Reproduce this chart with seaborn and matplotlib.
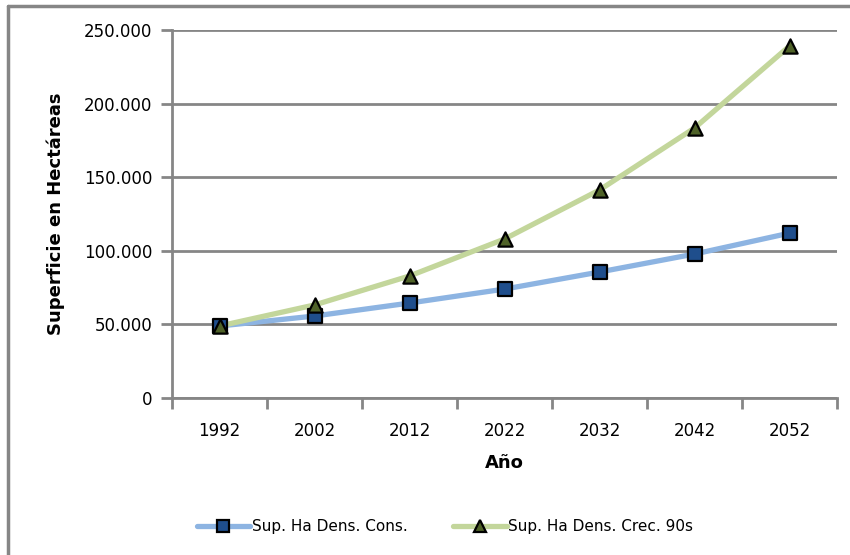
import seaborn as sns
import matplotlib.pyplot as plt
import pandas as pd
from matplotlib.lines import Line2D
from matplotlib.ticker import FuncFormatter

years = ["1992", "2002", "2012", "2022", "2032", "2042", "2052"]
cons = [48900, 55700, 64500, 74000, 85600, 97800, 112000]
crec = [48900, 63200, 82900, 108000, 141300, 183400, 239100]
series_names = ["Sup. Ha Dens. Cons.", "Sup. Ha Dens. Crec. 90s"]

sns.set_style("white")
plt.rcParams['font.family'] = ['DejaVu Sans']
plt.rcParams['text.color'] = 'black'
plt.rcParams['axes.labelcolor'] = 'black'
plt.rcParams['xtick.color'] = 'black'
plt.rcParams['ytick.color'] = 'black'

df = pd.DataFrame({
    "year": years * 2,
    "pos": list(range(len(years))) * 2,
    "value": cons + crec,
    "serie": [series_names[0]] * len(years) + [series_names[1]] * len(years),
})

fig = plt.figure(figsize=(8.5, 5.55), dpi=100)
ax = fig.add_axes([172 / 850, 1 - 398 / 555, 665 / 850, 368 / 555])

grid_col = "#868686"
line_cols = {series_names[0]: "#8DB4E2", series_names[1]: "#C3D69B"}
mark_cols = {series_names[0]: "#1F4E8C", series_names[1]: "#4F6228"}
markers = {series_names[0]: "s", series_names[1]: "^"}

for s in series_names:
    sub = df[df["serie"] == s]
    sns.lineplot(data=sub, x="pos", y="value", ax=ax, color=line_cols[s],
                 linewidth=3.8, zorder=3, legend=False)
    sns.scatterplot(data=sub, x="pos", y="value", ax=ax, marker=markers[s],
                    color=mark_cols[s], edgecolor="black", linewidth=1.6,
                    s=105, zorder=4, legend=False)

ax.set_xlim(-0.5, len(years) - 0.5)
ax.set_ylim(0, 250000)
ax.set_yticks(range(0, 250001, 50000))
ax.yaxis.set_major_formatter(FuncFormatter(lambda v, p: f"{int(v):,}".replace(",", ".")))
ax.set_xticks(range(len(years)))
ax.set_xticklabels(years)
ax.set_xticks([i - 0.5 for i in range(len(years) + 1)], minor=True)

ax.grid(axis="y", color=grid_col, linewidth=2)
ax.grid(axis="x", visible=False)
for side in ["top", "right"]:
    ax.spines[side].set_visible(False)
for side in ["left", "bottom"]:
    ax.spines[side].set_color(grid_col)
    ax.spines[side].set_linewidth(2)

ax.tick_params(axis="y", which="major", left=True, length=8, width=2, color=grid_col,
               labelcolor="black", labelsize=12, pad=6)
ax.tick_params(axis="x", which="major", bottom=False, labelcolor="black", labelsize=12, pad=14)
ax.tick_params(axis="x", which="minor", bottom=True, length=8, width=2, color=grid_col)

ax.set_xlabel("Año", fontsize=13, fontweight="bold", labelpad=10)
ax.set_ylabel("Superficie en Hectáreas", fontsize=13, fontweight="bold", labelpad=14)

handles = [
    Line2D([0], [0], color=line_cols[s], linewidth=3.8, marker=markers[s],
           markerfacecolor=mark_cols[s], markeredgecolor="black",
           markeredgewidth=1.6, markersize=9)
    for s in series_names
]
fig.legend(handles, series_names, loc="center", bbox_to_anchor=(445 / 850, 1 - 527 / 555),
           ncol=2, frameon=False, fontsize=11, handlelength=3.5, handletextpad=0.1,
           columnspacing=3)

# chart border (cropped)
fig.add_artist(Line2D([8 / 850, 8 / 850], [0, 1 - 6 / 555], transform=fig.transFigure,
                      color=grid_col, linewidth=2.5))
fig.add_artist(Line2D([8 / 850, 1], [1 - 6 / 555, 1 - 6 / 555], transform=fig.transFigure,
                      color=grid_col, linewidth=2.5))

fig.savefig("out.png", dpi=100)
